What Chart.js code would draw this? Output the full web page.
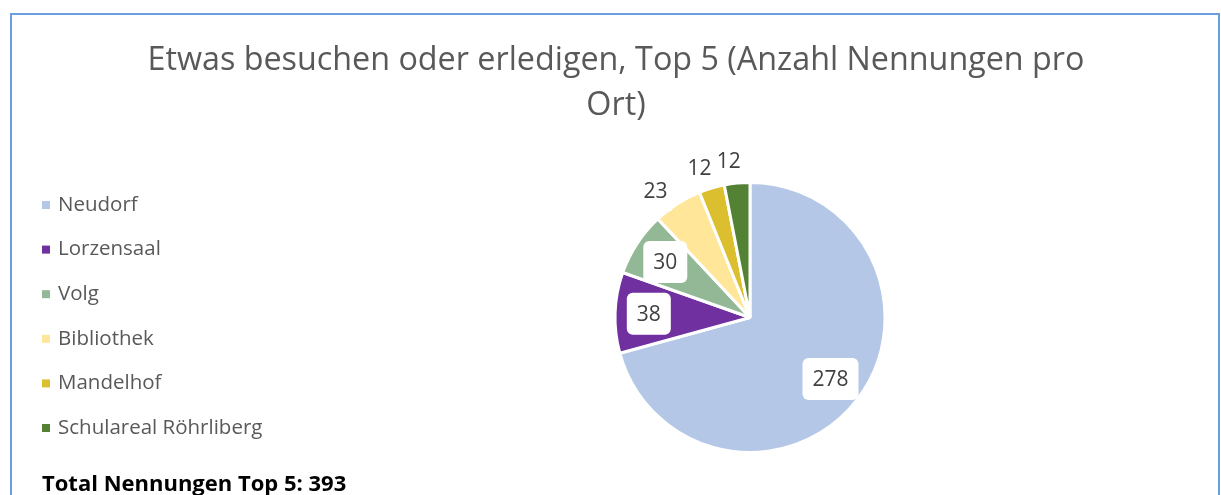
<!DOCTYPE html>
<html>
<head>
<meta charset="utf-8">
<script src="https://cdn.jsdelivr.net/npm/chart.js@4.4.1/dist/chart.umd.min.js"></script>
<style>
    html, body { margin: 0; padding: 0; background: #fff; overflow: hidden; }
    #wrap { position: relative; width: 1221px; height: 495px; }
    #frame { position: absolute; left: 10px; top: 13px; width: 1210px; height: 520px; border: 2px solid #6b9ee0; box-sizing: border-box; }
    #title { position: absolute; left: 10px; width: 1212px; top: 35px; text-align: center; font-family: "Open Sans", sans-serif; font-size: 32.3px; line-height: 45px; color: #595959; }
    #total { position: absolute; left: 42px; top: 467px; font-family: "Open Sans", sans-serif; font-weight: bold; font-size: 22px; color: #000; }
    canvas { position: absolute; left: 0; top: 0; }
</style>
</head>
<body>
<div id="wrap">
    <div id="frame"></div>
    <canvas id="pie" width="1221" height="495"></canvas>
    <div id="title">Etwas besuchen oder erledigen, Top 5 (Anzahl Nennungen pro<br>Ort)</div>
    <div id="total"></div>
</div>
<script>
// Data
const places = ['Neudorf', 'Lorzensaal', 'Volg', 'Bibliothek', 'Mandelhof', 'Schulareal Röhrliberg'];
const mentions = [278, 38, 30, 23, 12, 12];
const sliceColors = ['#b4c7e7', '#7030a0', '#92b895', '#ffe699', '#dbbf2f', '#548235'];

const total = mentions.reduce((a, b) => a + b, 0);
document.getElementById('total').textContent = 'Total Nennungen Top 5: ' + total;

// Legend on the left, drawn from the labels and colours
const sideLegend = {
    id: 'sideLegend',
    afterDraw(chart) {
        const ctx = chart.ctx;
        ctx.save();
        ctx.font = '20.5px "Open Sans", sans-serif';
        ctx.textBaseline = 'middle';
        chart.data.labels.forEach((label, i) => {
            const y = 205 + i * 44.6;
            ctx.fillStyle = chart.data.datasets[0].backgroundColor[i];
            ctx.fillRect(42, y - 4, 8, 8);
            ctx.fillStyle = '#595959';
            ctx.fillText(label, 58, y);
        });
        ctx.restore();
    }
};

// Value labels in white rounded boxes; small slices get them outside
const valueLabels = {
    id: 'valueLabels',
    afterDatasetsDraw(chart) {
        const ctx = chart.ctx;
        const meta = chart.getDatasetMeta(0);
        const values = chart.data.datasets[0].data;
        const sum = values.reduce((a, b) => a + b, 0);
        ctx.save();
        ctx.font = '21px "Open Sans", sans-serif';
        ctx.textAlign = 'center';
        ctx.textBaseline = 'middle';
        const spots = meta.data.map((arc, i) => {
            const p = arc.getProps(['x', 'y', 'startAngle', 'endAngle', 'outerRadius'], true);
            const share = values[i] / sum;
            const outside = share < 0.07;
            // outside labels sit a little towards the start of their slice
            const mid = outside ? p.startAngle + (p.endAngle - p.startAngle) * 0.3 : (p.startAngle + p.endAngle) / 2;
            const r = p.outerRadius * (outside ? 1.17 : 0.75);
            const text = String(values[i]);
            return {
                x: p.x + Math.cos(mid) * r,
                y: p.y + Math.sin(mid) * r,
                text: text,
                w: ctx.measureText(text).width + (outside ? 12 : 20)
            };
        });
        ctx.fillStyle = '#ffffff';
        spots.forEach(s => {
            ctx.beginPath();
            ctx.roundRect(s.x - s.w / 2, s.y - 21, s.w, 42, 6);
            ctx.fill();
        });
        ctx.fillStyle = '#404040';
        spots.forEach(s => ctx.fillText(s.text, s.x, s.y + 1));
        ctx.restore();
    }
};

const ctx = document.getElementById('pie').getContext('2d');
new Chart(ctx, {
    type: 'pie',
    data: {
        labels: places,
        datasets: [{
            data: mentions,
            backgroundColor: sliceColors,
            borderColor: '#ffffff',
            borderWidth: 3,
            radius: 135
        }]
    },
    options: {
        responsive: false,
        animation: false,
        events: [],
        layout: { padding: { left: 500, right: 221, top: 184, bottom: 44 } },
        plugins: {
            legend: { display: false },
            tooltip: { enabled: false },
            title: { display: false }
        }
    },
    plugins: [valueLabels, sideLegend]
});
</script>
</body>
</html>
